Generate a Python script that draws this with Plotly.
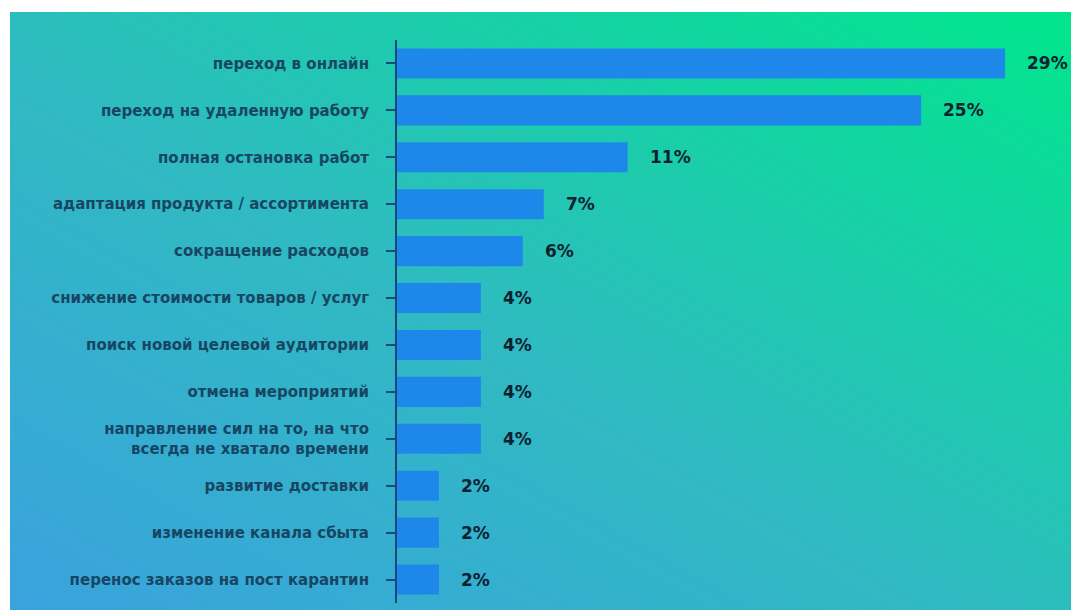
import base64
import plotly.graph_objects as go

# Survey answers, top to bottom
categories = [
    "переход в онлайн",
    "переход на удаленную работу",
    "полная остановка работ",
    "адаптация продукта / ассортимента",
    "сокращение расходов",
    "снижение стоимости товаров / услуг",
    "поиск новой целевой аудитории",
    "отмена мероприятий",
    "направление сил на то, на что<br>всегда не хватало времени",
    "развитие доставки",
    "изменение канала сбыта",
    "перенос заказов на пост карантин",
]
shares = [29, 25, 11, 7, 6, 4, 4, 4, 4, 2, 2, 2]
value_labels = [f"{v}%" for v in shares]

BAR_COLOR = "#1e88ea"
AXIS_COLOR = "#17497e"
TEXT_COLOR = "#174663"
VALUE_COLOR = "#0c2230"

# Diagonal blue-to-green backdrop as an inline SVG
svg = (
    '<svg xmlns="http://www.w3.org/2000/svg" width="1000" height="600" '
    'preserveAspectRatio="none" viewBox="0 0 1000 600">'
    '<defs><linearGradient id="g" x1="0" y1="1" x2="1" y2="0">'
    '<stop offset="0" stop-color="#3aa2de"/>'
    '<stop offset="0.45" stop-color="#30bac2"/>'
    '<stop offset="1" stop-color="#00e68c"/>'
    '</linearGradient></defs>'
    '<rect width="1000" height="600" fill="url(#g)"/></svg>'
)
bg_src = "data:image/svg+xml;base64," + base64.b64encode(svg.encode()).decode()

W, H = 1071, 610
ML, MR, MT, MB = 397, 45, 40, 7
pw, ph = W - ML - MR, H - MT - MB

fig = go.Figure()
fig.add_trace(go.Bar(
    x=shares,
    y=categories,
    orientation="h",
    marker=dict(color=BAR_COLOR, line=dict(width=0)),
    width=0.64,
    hoverinfo="skip",
))

for cat, val, lab in zip(categories, shares, value_labels):
    fig.add_annotation(
        x=val, y=cat, text=f"<b>{lab}</b>", showarrow=False,
        xanchor="left", yanchor="middle", xshift=20,
        font=dict(family="DejaVu Sans", size=17, color=VALUE_COLOR),
    )

fig.add_layout_image(
    source=bg_src, xref="paper", yref="paper",
    x=(10 - ML) / pw, y=1 + (MT - 12) / ph,
    sizex=(W - 10) / pw, sizey=(H - 12) / ph,
    xanchor="left", yanchor="top", sizing="stretch", layer="below",
)

fig.update_layout(
    width=W, height=H,
    margin=dict(l=ML, r=MR, t=MT, b=MB),
    paper_bgcolor="white",
    plot_bgcolor="rgba(0,0,0,0)",
    showlegend=False,
    xaxis=dict(range=[0, 30], visible=False, fixedrange=True),
    yaxis=dict(
        categoryorder="array", categoryarray=categories,
        autorange="reversed",
        showline=True, linecolor=AXIS_COLOR, linewidth=2,
        ticks="outside", ticklen=9, tickwidth=1.5, tickcolor=AXIS_COLOR,
        ticklabelstandoff=14,
        showgrid=False, zeroline=False,
        tickfont=dict(family="DejaVu Sans", size=15, color=TEXT_COLOR, weight="bold"),
    ),
)

fig.write_html("out.html")
